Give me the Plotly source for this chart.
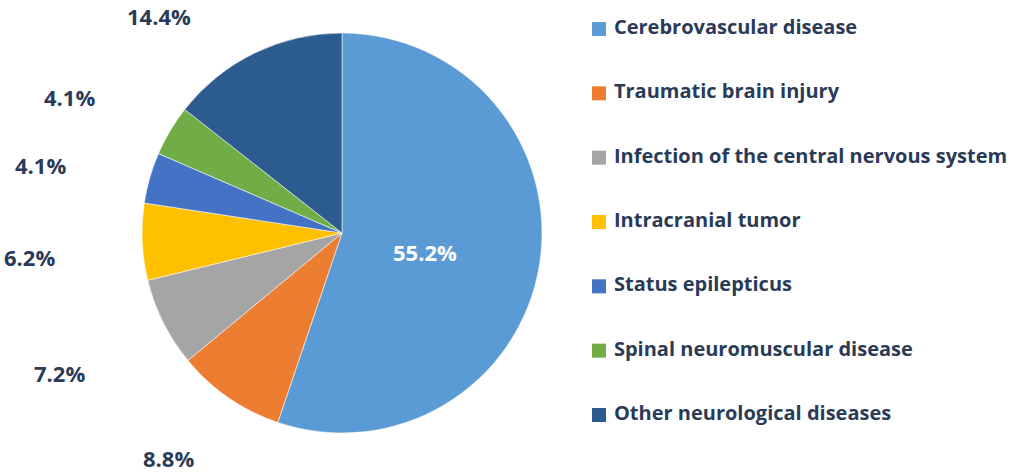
import math
import plotly.graph_objects as go

categories = [
    "Cerebrovascular disease",
    "Traumatic brain injury",
    "Infection of the central nervous system",
    "Intracranial tumor",
    "Status epilepticus",
    "Spinal neuromuscular disease",
    "Other neurological diseases",
]
values = [55.2, 8.8, 7.2, 6.2, 4.1, 4.1, 14.4]
colors = ["#5B9BD5", "#ED7D31", "#A5A5A5", "#FFC000", "#4472C4", "#70AD47", "#2C5B8F"]

W, H = 1013, 473
CX, CY, R = 342, 233, 200
TEXT_COLOR = "#2A3B57"
FONT = "Open Sans"


def px2paper(x, y):
    return x / W, 1 - y / H


fig = go.Figure()
fig.add_trace(go.Pie(
    labels=categories,
    values=values,
    sort=False,
    direction="clockwise",
    rotation=0,
    marker=dict(colors=colors, line=dict(color="rgba(255,255,255,0.55)", width=1)),
    textinfo="none",
    hoverinfo="label+percent",
    showlegend=False,
    domain=dict(x=[(CX - R) / W, (CX + R) / W], y=[(H - CY - R) / H, (H - CY + R) / H]),
))

# percentage labels positioned from the cumulative slice angles (Excel-like)
total = sum(values)
cum = 0.0
annotations = []
YMIN, YMAX = 16, 458
for i, v in enumerate(values):
    mid = (cum + v / 2) / total * 2 * math.pi
    cum += v
    s, c = math.sin(mid), math.cos(mid)
    txt = f"{v}%"
    if i == 0:
        px, py = CX + 0.42 * R * s, CY - 0.42 * R * c + 5
        col = "white"
    else:
        rl = R + 88
        tw, th = 12.5 * len(txt), 22
        sx = 1 if s >= 0 else -1
        px = CX + rl * s + sx * tw / 2
        py = CY - rl * c + th / 2
        if py < YMIN or py > YMAX:
            rc = 284
            py = YMIN if py < YMIN else YMAX
            dy = py - CY
            px = CX + sx * math.sqrt(max(rc * rc - dy * dy, 0))
        col = TEXT_COLOR
    ax, ay = px2paper(px, py)
    annotations.append(dict(
        x=ax, y=ay, xref="paper", yref="paper",
        text=txt, showarrow=False, xanchor="center", yanchor="middle",
        font=dict(family=FONT, size=22, color=col, weight="bold"),
    ))

# legend drawn as a scatter on hidden axes for Excel-like spacing
idx = list(range(len(categories)))
step = 64.33
top0 = 29
mark_x = 599
x0 = 575
fig.add_trace(go.Scatter(
    x=[0] * len(categories), y=idx,
    mode="markers+text",
    marker=dict(symbol="square", size=14, color=colors),
    text=[" " + c for c in categories],
    textposition="middle right",
    textfont=dict(family=FONT, size=20, color=TEXT_COLOR, weight="bold"),
    hoverinfo="skip", showlegend=False,
    xaxis="x", yaxis="y", cliponaxis=False,
))

fig.update_layout(
    width=W, height=H,
    margin=dict(l=0, r=0, t=0, b=0),
    paper_bgcolor="white", plot_bgcolor="white",
    annotations=annotations,
    xaxis=dict(domain=[x0 / W, 1], range=[x0 - mark_x, W - mark_x], visible=False, fixedrange=True),
    yaxis=dict(domain=[0, 1], range=[(H - top0) / step, -top0 / step], visible=False, fixedrange=True),
)

fig.write_html(
    "out.html",
    config={"displayModeBar": False},
    post_script="document.body.style.margin='0';document.body.style.overflow='hidden';",
)
